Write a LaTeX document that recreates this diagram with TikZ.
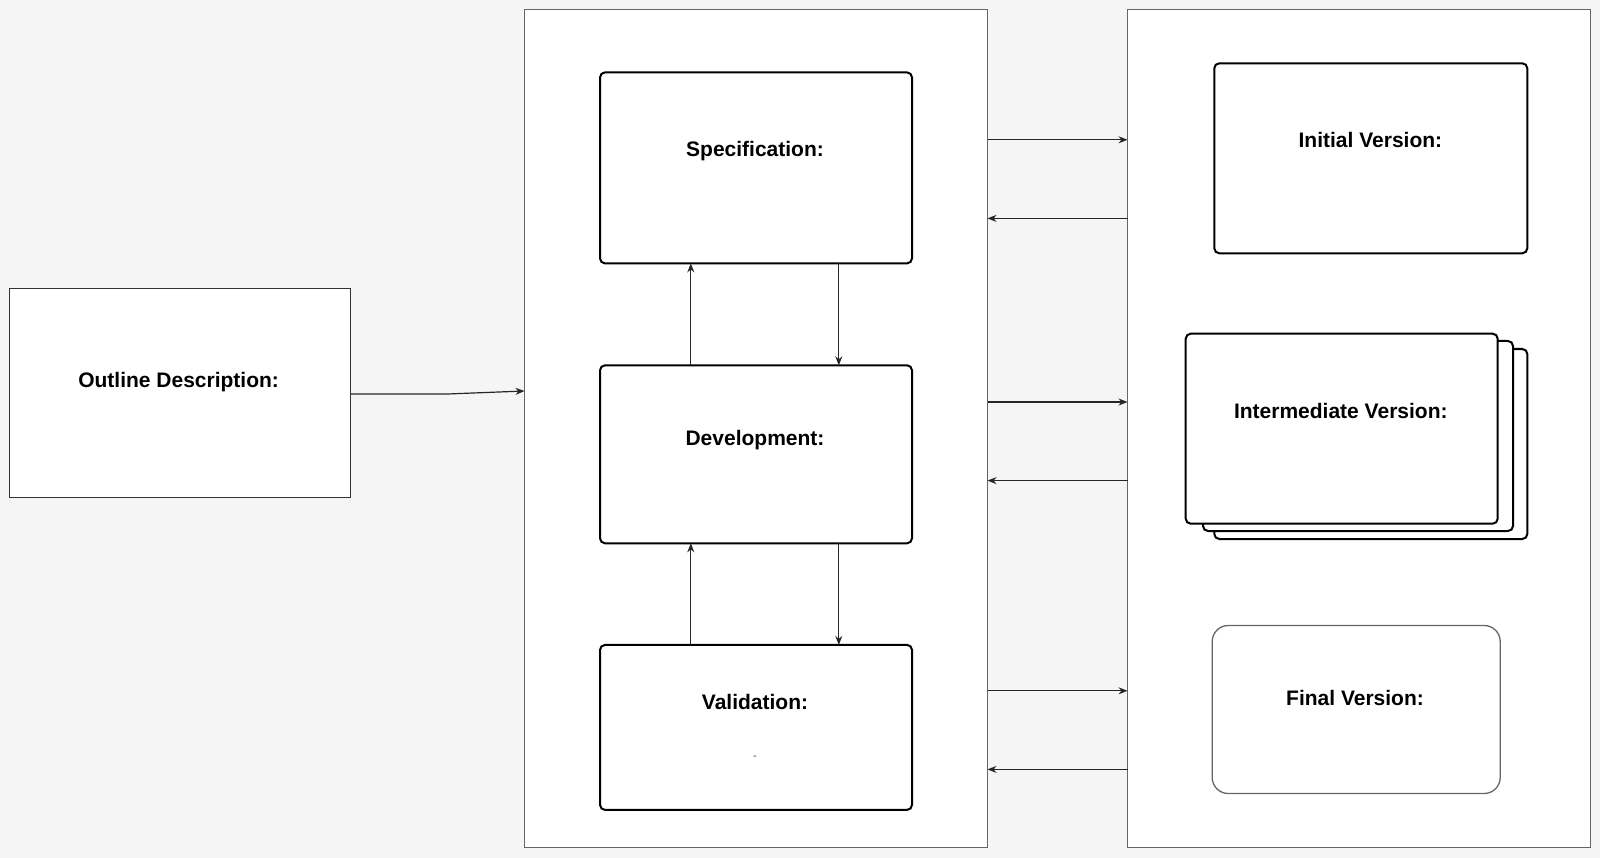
\documentclass[tikz,border=0pt]{standalone}
\usepackage{fontspec}
\setmainfont{Liberation Sans}
\usetikzlibrary{arrows.meta}
\definecolor{bg}{HTML}{F5F5F5}
\definecolor{edgegray}{HTML}{666666}
\tikzset{
  container/.style={draw=edgegray, line width=1.2pt, fill=white, anchor=north west, inner sep=0pt, outer sep=0pt},
  plainbox/.style={draw=black!80, line width=1.2pt, fill=white, anchor=north west, inner sep=0pt, outer sep=0pt},
  stagebox/.style={draw=black, line width=2pt, fill=white, rounded corners=5pt, anchor=north west, inner sep=0pt, outer sep=0pt},
  finalbox/.style={draw=edgegray, line width=1.3pt, fill=white, rounded corners=16pt, anchor=north west, inner sep=0pt, outer sep=0pt},
  lbl/.style={font=\fontsize{21}{25}\selectfont\bfseries, inner sep=0pt},
  conn/.style={draw=black!85, line width=1.2pt, -{Stealth[length=9pt,width=7pt]}},
}
\begin{document}
\begin{tikzpicture}[x=1pt,y=-1pt]
\fill[bg] (0,0) rectangle (1600,858);
\useasboundingbox (0,0) rectangle (1600,858);

% containers
\node[container, minimum width=463pt, minimum height=838pt] (mid) at (524.5,9.2) {};
\node[container, minimum width=463pt, minimum height=838pt] (right) at (1127.5,9.2) {};

% outline
\node[plainbox, minimum width=341pt, minimum height=209pt] (outline) at (9.2,288.8) {};
\node[lbl] (outlinet) at (178.6,382) {Outline Description:};

% stages
\node[stagebox, minimum width=312pt, minimum height=191pt] (spec) at (600,72.4) {};
\node[lbl] (spect) at (755,151.5) {Specification:};
\node[stagebox, minimum width=312pt, minimum height=178pt] (dev) at (600,365.3) {};
\node[lbl] (devt) at (755,440) {Development:};
\node[stagebox, minimum width=312pt, minimum height=165pt] (val) at (600,644.9) {};
\node[lbl] (valt) at (755,702) {Validation:};
\node[font=\fontsize{11}{12}\selectfont, inner sep=0pt, text=black!70] (valdash) at (755,758) {-};

% versions
\node[stagebox, minimum width=313pt, minimum height=190pt] (init) at (1214.3,63.3) {};
\node[lbl] (initt) at (1370.4,139.5) {Initial Version:};

\node[stagebox, minimum width=313pt, minimum height=190pt] (int3) at (1214.3,349) {};
\node[stagebox, minimum width=310pt, minimum height=190pt] (int2) at (1203,341) {};
\node[stagebox, minimum width=312pt, minimum height=190pt] (int1) at (1185.7,333.7) {};
\node[lbl] (intt) at (1340.8,410.5) {Intermediate Version:};

\node[finalbox, minimum width=288pt, minimum height=168pt] (final) at (1212.2,625.5) {};
\node[lbl] (finalt) at (1355,697.5) {Final Version:};

% outline -> middle
\coordinate (okink) at (450,393.9);
\draw[conn] (outline.east |- 0,393.9) -- (okink) -- (mid.west |- 0,391);

% vertical arrows
\draw[conn] (dev.north -| 690.8,0) -- (spec.south -| 690.8,0);
\draw[conn] (spec.south -| 838.8,0) -- (dev.north -| 838.8,0);
\draw[conn] (val.north -| 690.8,0) -- (dev.south -| 690.8,0);
\draw[conn] (dev.south -| 838.8,0) -- (val.north -| 838.8,0);

% container arrows
\foreach \ya/\yb in {139.8/218.4, 402/480.6, 690.8/769.4}{
  \draw[conn] (mid.east |- 0,\ya) -- (right.west |- 0,\ya);
  \draw[conn] (right.west |- 0,\yb) -- (mid.east |- 0,\yb);
}
\end{tikzpicture}
\end{document}
